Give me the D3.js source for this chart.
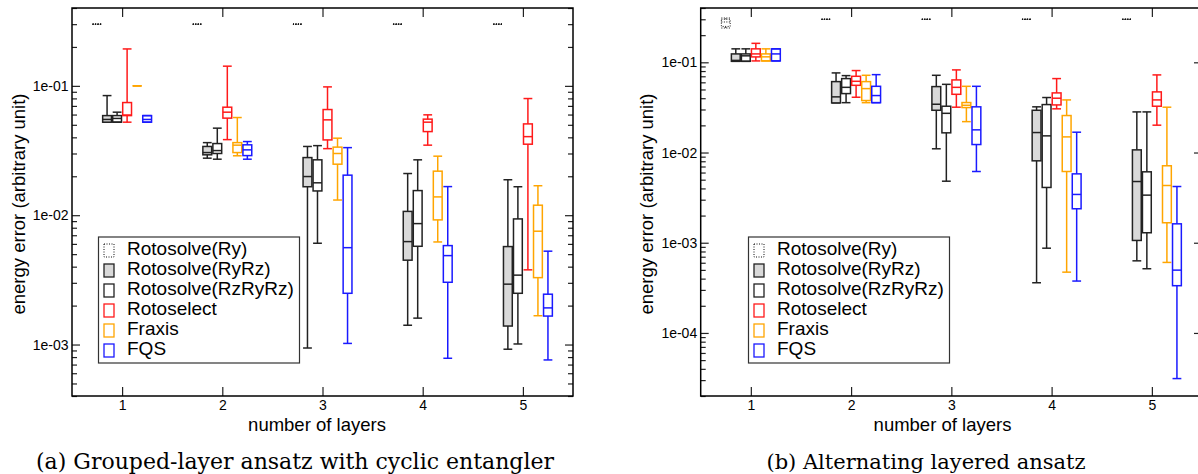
<!DOCTYPE html>
<html>
<head>
<meta charset="utf-8">
<script src="https://cdn.jsdelivr.net/npm/d3@7"></script>
<style>
  body { margin: 0; background: #fff; }
  svg text { font-family: "Liberation Sans", Arial, sans-serif; }
</style>
</head>
<body>
<svg id="fig" width="1198" height="474"></svg>
<script>
const layers = [1, 2, 3, 4, 5];
const seriesNames = ["Rotosolve(Ry)", "Rotosolve(RyRz)", "Rotosolve(RzRyRz)", "Rotoselect", "Fraxis", "FQS"];

// one row per layer: [whisker low, q1, median, q3, whisker high]
// (a) grouped-layer ansatz
const groupedRy = [
  [0.299, 0.299, 0.3, 0.301, 0.301], [0.299, 0.299, 0.3, 0.301, 0.301], [0.299, 0.299, 0.3, 0.301, 0.301],
  [0.299, 0.299, 0.3, 0.301, 0.301], [0.299, 0.299, 0.3, 0.301, 0.301]
];
const groupedRyRz = [
  [0.0524, 0.0524, 0.0550, 0.0589, 0.0841],
  [0.0276, 0.0293, 0.0305, 0.0340, 0.0364],
  [0.00094, 0.0166, 0.0199, 0.0279, 0.0340],
  [0.00141, 0.00449, 0.00625, 0.0107, 0.0210],
  [0.00092, 0.00139, 0.00293, 0.00572, 0.0188]
];
const groupedRzRyRz = [
  [0.0524, 0.0524, 0.0560, 0.0589, 0.0626],
  [0.0271, 0.0300, 0.0316, 0.0358, 0.0471],
  [0.00607, 0.0154, 0.0178, 0.0268, 0.0345],
  [0.0016, 0.00575, 0.00861, 0.0155, 0.0268],
  [0.00101, 0.00249, 0.00344, 0.00936, 0.0166]
];
const groupedRotoselect = [
  [0.0524, 0.0589, 0.0595, 0.0743, 0.193],
  [0.0384, 0.0563, 0.0626, 0.0684, 0.142],
  [0.0327, 0.0382, 0.0546, 0.0656, 0.0982],
  [0.0348, 0.0443, 0.0524, 0.0553, 0.0597],
  [0.00378, 0.0354, 0.0405, 0.0508, 0.0798]
];
const groupedFraxis = [
  [0.1, 0.1, 0.1, 0.1, 0.1],
  [0.0288, 0.0305, 0.0348, 0.0364, 0.0569],
  [0.0131, 0.0248, 0.0300, 0.0336, 0.0394],
  [0.00621, 0.0092, 0.01385, 0.0219, 0.0286],
  [0.00167, 0.00329, 0.00752, 0.01195, 0.0169]
];
const groupedFQS = [
  [0.0524, 0.0524, 0.0550, 0.0589, 0.0589],
  [0.0271, 0.0289, 0.0320, 0.0350, 0.0371],
  [0.00102, 0.00249, 0.00561, 0.0204, 0.0333],
  [0.000783, 0.00303, 0.00487, 0.00582, 0.01664],
  [0.00076, 0.00166, 0.00192, 0.00245, 0.00527]
];

// (b) alternating layered ansatz
const alternatingRy = [
  [0.24, 0.25, 0.28, 0.30, 0.31], [0.299, 0.299, 0.3, 0.301, 0.301], [0.299, 0.299, 0.3, 0.301, 0.301],
  [0.299, 0.299, 0.3, 0.301, 0.301], [0.299, 0.299, 0.3, 0.301, 0.301]
];
const alternatingRyRz = [
  [0.1026, 0.1026, 0.105, 0.1239, 0.141],
  [0.0355, 0.0355, 0.0414, 0.0611, 0.0763],
  [0.0110, 0.0294, 0.0343, 0.0538, 0.0718],
  [0.00036, 0.00809, 0.01665, 0.0294, 0.0321],
  [0.00063, 0.00106, 0.00477, 0.0107, 0.0282]
];
const alternatingRzRyRz = [
  [0.1026, 0.1026, 0.118, 0.1239, 0.141],
  [0.0357, 0.0450, 0.0528, 0.0660, 0.0712],
  [0.00481, 0.01653, 0.0272, 0.0326, 0.0570],
  [0.00087, 0.0041, 0.0153, 0.0340, 0.0407],
  [0.000515, 0.00129, 0.00337, 0.00611, 0.0282]
];
const alternatingRotoselect = [
  [0.1036, 0.1148, 0.1239, 0.141, 0.1623],
  [0.0410, 0.0556, 0.0616, 0.0700, 0.0810],
  [0.0318, 0.0442, 0.0528, 0.0638, 0.0824],
  [0.0305, 0.0337, 0.0400, 0.0458, 0.0660],
  [0.0201, 0.0326, 0.0383, 0.0470, 0.0725]
];
const alternatingFraxis = [
  [0.1036, 0.1036, 0.115, 0.1239, 0.141],
  [0.0357, 0.0377, 0.0511, 0.0611, 0.0718],
  [0.0220, 0.0315, 0.0334, 0.0358, 0.0542],
  [0.000472, 0.00616, 0.0149, 0.0257, 0.0383],
  [0.000605, 0.001665, 0.00431, 0.00713, 0.0318]
];
const alternatingFQS = [
  [0.1036, 0.1036, 0.1239, 0.141, 0.141],
  [0.0357, 0.0357, 0.0428, 0.0542, 0.0730],
  [0.00616, 0.01226, 0.01784, 0.0321, 0.0542],
  [0.000376, 0.00238, 0.00343, 0.0058, 0.0168],
  [0.0000312, 0.000334, 0.000497, 0.00162, 0.0042]
];

const xTitle = "number of layers";
const yTitle = "energy error (arbitrary unit)";

// series look
const seriesStyle = [
  { stroke: "#111", fill: "none", dash: "1,1.5", width: 1 },
  { stroke: "#222", fill: "#d9d9d9", dash: null, width: 1.5 },
  { stroke: "#222", fill: "none", dash: null, width: 1.5 },
  { stroke: "#ff1a1a", fill: "none", dash: null, width: 1.5 },
  { stroke: "#ffa500", fill: "none", dash: null, width: 1.5 },
  { stroke: "#1a1aff", fill: "none", dash: null, width: 1.5 }
];

const svg = d3.select("#fig");
const sci = v => "1e-" + String(-Math.round(Math.log10(v))).padStart(2, "0");

function drawPanel(cfg) {
  const g = svg.append("g");
  const x = d3.scaleLinear().domain([0.5, 5.5]).range([cfg.left, cfg.right]);
  const y = d3.scaleLog().domain(cfg.yDomain).range([cfg.bottom, cfg.top]);

  const all = y.ticks();
  const isPow = v => Math.abs(Math.log10(v) - Math.round(Math.log10(v))) < 1e-9;
  const major = all.filter(isPow);
  const minor = all.filter(v => !isPow(v));

  const styleAxis = a => {
    a.select(".domain").remove();
    a.selectAll(".tick line").attr("stroke", "#222").attr("stroke-width", 1.2);
    a.selectAll(".tick text").attr("font-size", 14).attr("fill", "#000")
      .attr("font-family", "'Liberation Sans', Arial, sans-serif");
  };

  // left axis
  g.append("g").attr("transform", `translate(${cfg.left},0)`)
    .call(d3.axisLeft(y).tickValues(major).tickSizeInner(-8).tickSizeOuter(0).tickPadding(3.5).tickFormat(sci))
    .call(styleAxis);
  g.append("g").attr("transform", `translate(${cfg.left},0)`)
    .call(d3.axisLeft(y).tickValues(minor).tickSizeInner(-5).tickSizeOuter(0).tickFormat(""))
    .call(styleAxis);
  // right axis
  g.append("g").attr("transform", `translate(${cfg.right},0)`)
    .call(d3.axisRight(y).tickValues(major).tickSizeInner(-8).tickSizeOuter(0).tickFormat(""))
    .call(styleAxis);
  g.append("g").attr("transform", `translate(${cfg.right},0)`)
    .call(d3.axisRight(y).tickValues(minor).tickSizeInner(-cfg.rightMinor).tickSizeOuter(0).tickFormat(""))
    .call(styleAxis);
  // bottom / top
  g.append("g").attr("transform", `translate(0,${cfg.bottom})`)
    .call(d3.axisBottom(x).tickValues(layers).tickSizeInner(-9).tickSizeOuter(0).tickPadding(4.5).tickFormat(d3.format("d")))
    .call(styleAxis);
  g.append("g").attr("transform", `translate(0,${cfg.top})`)
    .call(d3.axisTop(x).tickValues(layers).tickSizeInner(-9).tickSizeOuter(0).tickFormat(""))
    .call(styleAxis);

  // frame
  g.append("rect")
    .attr("x", cfg.left).attr("y", cfg.top)
    .attr("width", cfg.right - cfg.left).attr("height", cfg.bottom - cfg.top)
    .attr("fill", "none").attr("stroke", "#000").attr("stroke-width", 1.5);

  // boxes
  const bw = x(0.588) - x(0.5);
  cfg.boxes.forEach((rows, i) => {
    const st = seriesStyle[i];
    const off = (i - 2.5) * 0.1;
    const stats = rows.map((r, k) => ({ cx: x(layers[k] + off), lo: r[0], q1: r[1], med: r[2], q3: r[3], hi: r[4] }));
    const sg = g.append("g")
      .attr("stroke", st.stroke)
      .attr("stroke-width", st.width)
      .attr("stroke-dasharray", st.dash);
    const b = sg.selectAll("g").data(stats).join("g");
    b.append("line")
      .attr("x1", d => d.cx).attr("x2", d => d.cx)
      .attr("y1", d => y(d.lo)).attr("y2", d => y(d.q1));
    b.append("line")
      .attr("x1", d => d.cx).attr("x2", d => d.cx)
      .attr("y1", d => y(d.q3)).attr("y2", d => y(d.hi));
    b.append("line")
      .attr("x1", d => d.cx - bw / 2).attr("x2", d => d.cx + bw / 2)
      .attr("y1", d => y(d.lo)).attr("y2", d => y(d.lo));
    b.append("line")
      .attr("x1", d => d.cx - bw / 2).attr("x2", d => d.cx + bw / 2)
      .attr("y1", d => y(d.hi)).attr("y2", d => y(d.hi));
    b.append("rect")
      .attr("x", d => d.cx - bw / 2).attr("width", bw)
      .attr("y", d => y(d.q3)).attr("height", d => y(d.q1) - y(d.q3))
      .attr("fill", st.fill);
    b.append("line")
      .attr("x1", d => d.cx - bw / 2).attr("x2", d => d.cx + bw / 2)
      .attr("y1", d => y(d.med)).attr("y2", d => y(d.med));
  });

  // legend
  const lg = g.append("g").attr("transform", `translate(${cfg.legendX},237)`);
  lg.append("rect").attr("width", 201).attr("height", 126)
    .attr("fill", "#fff").attr("stroke", "#333").attr("stroke-width", 1.2);
  const item = lg.selectAll("g.item").data(seriesNames).join("g")
    .attr("class", "item")
    .attr("transform", (d, i) => `translate(0,${i * 20})`);
  item.append("rect")
    .attr("x", 5.5).attr("y", 7).attr("width", 10).attr("height", 13)
    .attr("fill", (d, i) => seriesStyle[i].fill)
    .attr("stroke", (d, i) => seriesStyle[i].stroke)
    .attr("stroke-width", (d, i) => i === 0 ? 1 : 1.3)
    .attr("stroke-dasharray", (d, i) => seriesStyle[i].dash);
  item.append("text")
    .attr("x", 28.5).attr("y", 17.5)
    .attr("font-size", 19)
    .text(d => d);

  // axis titles
  g.append("text")
    .attr("x", cfg.xTitleX).attr("y", 431)
    .attr("text-anchor", "middle").attr("font-size", 18.5)
    .text(xTitle);
  g.append("text")
    .attr("transform", `translate(${cfg.left - 47.5},${(cfg.top + cfg.bottom) / 2 + 2}) rotate(-90)`)
    .attr("text-anchor", "middle").attr("font-size", 18.5)
    .text(yTitle);

  // caption
  g.append("text")
    .attr("x", cfg.captionX).attr("y", 469)
    .attr("text-anchor", "middle")
    .attr("font-size", cfg.captionSize)
    .style("font-family", "'DejaVu Serif', serif")
    .text(cfg.caption);
}

drawPanel({
  left: 72, right: 573, top: 8, bottom: 396,
  yDomain: [4e-4, 0.4], rightMinor: 5,
  boxes: [groupedRy, groupedRyRz, groupedRzRyRz, groupedRotoselect, groupedFraxis, groupedFQS],
  legendX: 98.5, xTitleX: 317,
  caption: "(a) Grouped-layer ansatz with cyclic entangler", captionX: 295, captionSize: 22
});

drawPanel({
  left: 700.7, right: 1202, top: 8, bottom: 396,
  yDomain: [2e-5, 0.4], rightMinor: 4,
  boxes: [alternatingRy, alternatingRyRz, alternatingRzRyRz, alternatingRotoselect, alternatingFraxis, alternatingFQS],
  legendX: 748.5, xTitleX: 942.5,
  caption: "(b) Alternating layered ansatz", captionX: 926, captionSize: 21
});
</script>
</body>
</html>
